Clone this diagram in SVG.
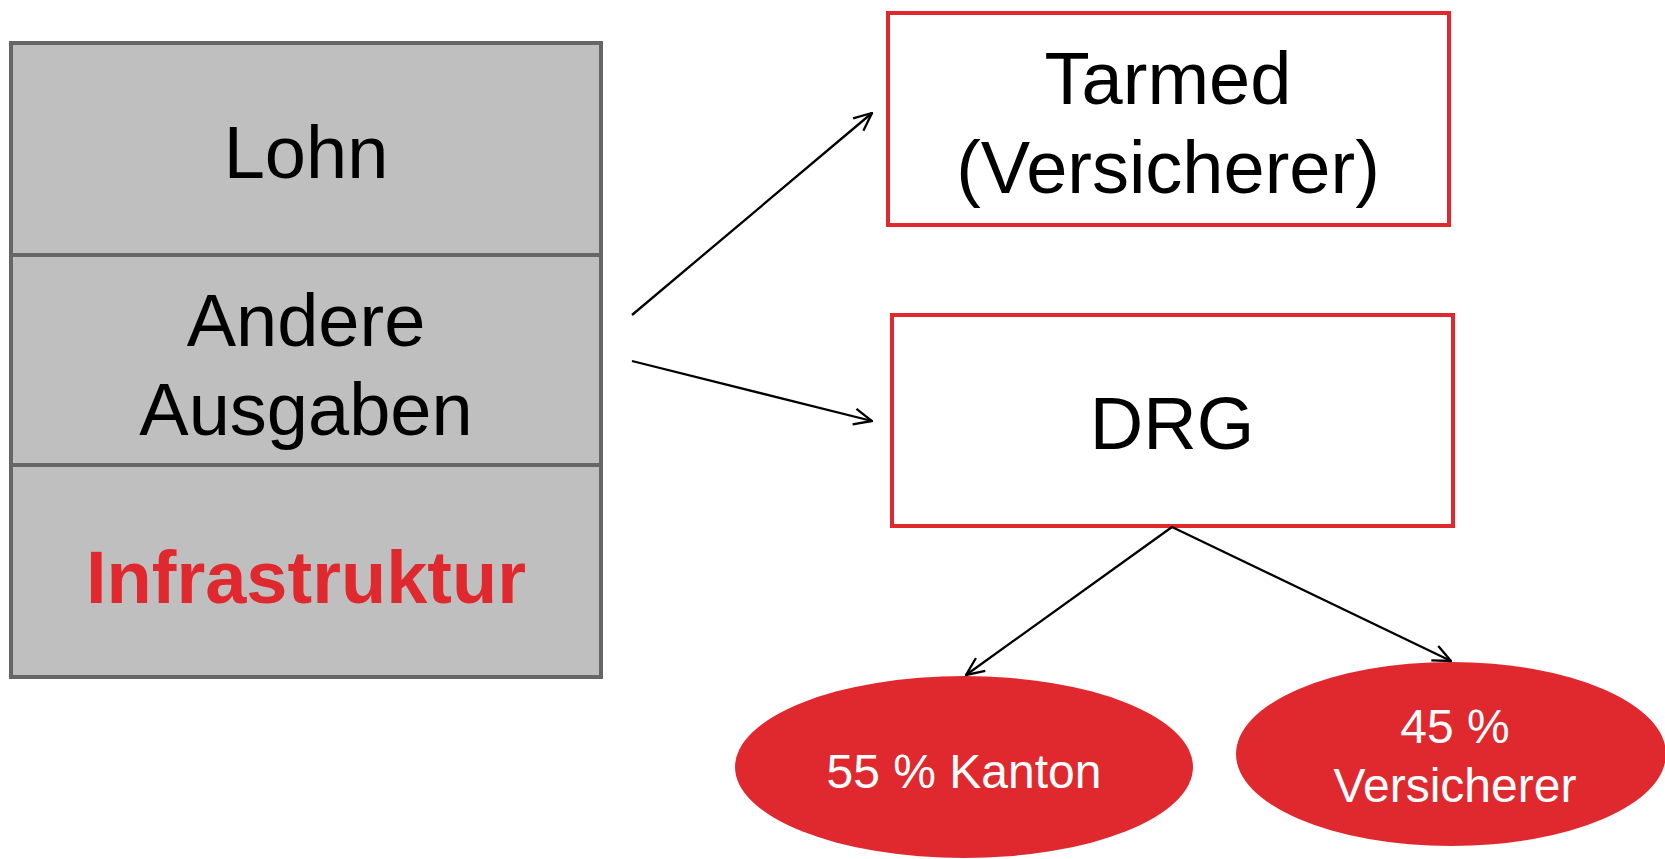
<svg xmlns="http://www.w3.org/2000/svg" width="1665" height="859" viewBox="0 0 1665 859">
<style>
.cell{fill:#bfbfbf;stroke:#666666;stroke-width:4}
.box{fill:#ffffff;stroke:#e0292e;stroke-width:4}
.ell{fill:#e0292e}
.t{font-family:"Liberation Sans",Arial,sans-serif;font-size:74px;text-anchor:middle;fill:#000}
.tb{font-family:"Liberation Sans",Arial,sans-serif;font-size:74px;font-weight:bold;text-anchor:middle;fill:#e0292e}
.tw{font-family:"Liberation Sans",Arial,sans-serif;font-size:48px;text-anchor:middle;fill:#ffffff}
.c{stroke:#000;stroke-width:2.3;fill:none;marker-end:url(#ah)}
</style>
<defs>
<marker id="ah" viewBox="0 0 20 20" refX="19" refY="10" markerWidth="20" markerHeight="20" markerUnits="userSpaceOnUse" orient="auto">
<path d="M1,2 L19,10 L1,18" fill="none" stroke="#000" stroke-width="2.3"/>
</marker>
</defs>
<rect width="1665" height="859" fill="#ffffff"/>
<g id="lohn">
<rect class="cell" x="11" y="43" width="590" height="212"/>
<text class="t" x="306" y="178">Lohn</text>
</g>
<g id="andere">
<rect class="cell" x="11" y="255" width="590" height="210"/>
<text class="t" x="306" y="346">Andere</text>
<text class="t" x="306" y="435">Ausgaben</text>
</g>
<g id="infrastruktur">
<rect class="cell" x="11" y="465" width="590" height="212"/>
<text class="tb" x="306" y="603">Infrastruktur</text>
</g>
<g id="tarmed">
<rect class="box" x="888" y="13" width="561" height="212"/>
<text class="t" x="1168" y="104">Tarmed</text>
<text class="t" x="1168" y="193">(Versicherer)</text>
</g>
<g id="drg">
<rect class="box" x="892" y="315" width="561" height="211"/>
<text class="t" x="1172" y="449">DRG</text>
</g>
<g id="kanton">
<ellipse class="ell" cx="964" cy="767" rx="229" ry="91"/>
<text class="tw" x="964" y="788">55 % Kanton</text>
</g>
<g id="versicherer">
<ellipse class="ell" cx="1451" cy="754" rx="215" ry="92"/>
<text class="tw" x="1455" y="743">45 %</text>
<text class="tw" x="1455" y="802">Versicherer</text>
</g>
<g id="connectors">
<line class="c" x1="632" y1="315" x2="872" y2="113"/>
<line class="c" x1="632" y1="361" x2="872" y2="421"/>
<line class="c" x1="1172" y1="527" x2="966" y2="675"/>
<line class="c" x1="1172" y1="527" x2="1451" y2="661"/>
</g>
</svg>
